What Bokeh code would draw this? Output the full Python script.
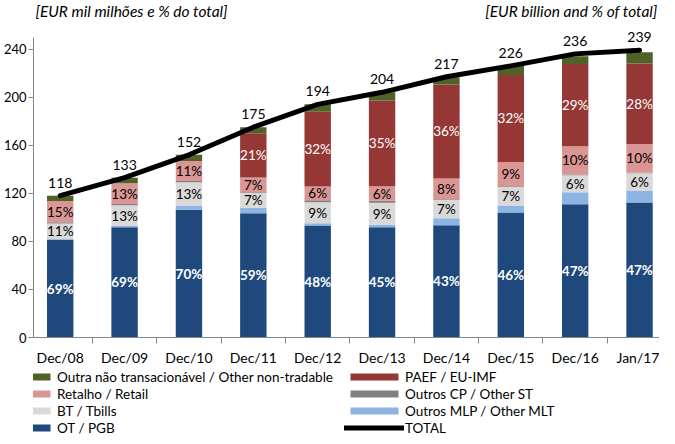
from bokeh.plotting import figure
from bokeh.layouts import column
from bokeh.models import ColumnDataSource, FixedTicker, Legend, LegendItem
from bokeh.core.properties import value
from bokeh.embed import file_html
from bokeh.resources import INLINE

# ---------------- data (EUR billion) ----------------
categories = ["Dec/08", "Dec/09", "Dec/10", "Dec/11", "Dec/12",
              "Dec/13", "Dec/14", "Dec/15", "Dec/16", "Jan/17"]
totals = [118, 133, 152, 175, 194, 204, 217, 226, 236, 239]

ot_pgb = [81.4, 91.8, 106.4, 103.3, 93.1, 91.8, 93.3, 104.0, 110.9, 112.3]
other_mlt = [0.5, 1.0, 3.0, 4.7, 2.0, 2.0, 6.0, 5.5, 10.0, 10.0]
bt_tbills = [13.0, 17.3, 19.8, 12.3, 17.5, 18.4, 15.2, 15.8, 14.2, 14.3]
other_st = [1.0, 1.0, 1.0, 0.5, 1.5, 1.5, 0.5, 0.5, 0.5, 0.5]
retail = [17.7, 17.3, 16.7, 12.3, 11.6, 12.2, 17.4, 20.3, 23.6, 23.9]
paef = [0.0, 0.0, 0.0, 36.8, 62.1, 71.4, 78.1, 72.3, 68.4, 66.9]
other_nt = [4.4, 4.6, 5.1, 5.1, 6.2, 6.7, 6.0, 7.6, 6.5, 9.5]

pct_ot = ["69%", "69%", "70%", "59%", "48%", "45%", "43%", "46%", "47%", "47%"]
pct_bt = ["11%", "13%", "13%", "7%", "9%", "9%", "7%", "7%", "6%", "6%"]
pct_retail = ["15%", "13%", "11%", "7%", "6%", "6%", "8%", "9%", "10%", "10%"]
pct_paef = ["", "", "", "21%", "32%", "35%", "36%", "32%", "29%", "28%"]

series_keys = ["ot", "mlt", "bt", "st", "retail", "paef", "other"]
series_labels = ["OT / PGB", "Outros MLP / Other MLT", "BT / Tbills",
                 "Outros CP / Other ST", "Retalho / Retail", "PAEF / EU-IMF",
                 "Outra não transacionável / Other non-tradable"]
series_colors = ["#1F497D", "#8DB4E2", "#D9D9D9", "#808080",
                 "#DA9694", "#953735", "#4F6228"]

subtitle_pt = "[EUR mil milhões e % do total]"
subtitle_en = "[EUR billion and % of total]"

FONT = "Lato"
W = 659

xs = list(range(len(categories)))
n = len(xs)

# label positions (segment centres)
y_ot = [ot_pgb[i] / 2 for i in range(n)]
y_bt = [ot_pgb[i] + other_mlt[i] + bt_tbills[i] / 2 for i in range(n)]
y_ret = [ot_pgb[i] + other_mlt[i] + bt_tbills[i] + other_st[i] + retail[i] / 2 for i in range(n)]
y_paef = [ot_pgb[i] + other_mlt[i] + bt_tbills[i] + other_st[i] + retail[i] + paef[i] / 2 for i in range(n)]

source = ColumnDataSource(dict(
    x=xs, cat=categories, total=totals,
    ot=ot_pgb, mlt=other_mlt, bt=bt_tbills, st=other_st,
    retail=retail, paef=paef, other=other_nt,
    y_ot=y_ot, y_bt=y_bt, y_ret=y_ret, y_paef=y_paef,
    p_ot=pct_ot, p_bt=pct_bt, p_ret=pct_retail, p_paef=pct_paef,
))

# ---------------- header with the two subtitles ----------------
header = figure(width=W, height=19, x_range=(0, W), y_range=(0, 19),
                x_axis_type=None, y_axis_type=None,
                output_backend="svg", toolbar_location=None,
                min_border=0)
header.outline_line_color = None
header.grid.visible = False
header.text(x=[2], y=[9], text=[subtitle_pt], text_font=value(FONT),
            text_font_size="15.5px", text_font_style="italic",
            text_baseline="middle", text_align="left", text_color="black")
header.text(x=[W - 2], y=[9], text=[subtitle_en], text_font=value(FONT),
            text_font_size="15.5px", text_font_style="italic",
            text_baseline="middle", text_align="right", text_color="black")

# ---------------- main chart ----------------
p = figure(width=W, height=349, x_range=(-0.415, 9.31), y_range=(0, 264.6),
           output_backend="svg", toolbar_location=None,
           min_border_left=26, min_border_right=0, min_border_top=0,
           min_border_bottom=27)
p.outline_line_color = None
p.grid.visible = False

bars = p.vbar_stack(series_keys, x="x", width=0.41, color=series_colors,
                    line_color=None, source=source)

line = p.line("x", "total", source=source, line_width=5, line_color="black",
              line_cap="round", line_join="round")

p.text("x", "y_ot", text="p_ot", source=source, text_align="center",
       text_baseline="middle", text_color="white", text_font=value(FONT),
       text_font_size="13.5px", text_font_style="bold")
p.text("x", "y_bt", text="p_bt", source=source, text_align="center",
       text_baseline="middle", text_color="black", text_font=value(FONT),
       text_font_size="13.5px")
p.text("x", "y_ret", text="p_ret", source=source, text_align="center",
       text_baseline="middle", text_color="black", text_font=value(FONT),
       text_font_size="13.5px")
p.text("x", "y_paef", text="p_paef", source=source, text_align="center",
       text_baseline="middle", text_color="white", text_font=value(FONT),
       text_font_size="13.5px")
p.text("x", "total", text="total", source=source, text_align="center",
       text_baseline="bottom", y_offset=-8, text_color="black",
       text_font=value(FONT), text_font_size="14px")

p.yaxis.ticker = FixedTicker(ticks=[0, 40, 80, 120, 160, 200, 240])
p.yaxis.bounds = (0, 250)
p.yaxis.major_tick_out = 5
p.yaxis.major_tick_in = 0
p.yaxis.minor_tick_line_color = None
p.yaxis.major_label_standoff = 2
p.yaxis.axis_line_color = "#868686"
p.yaxis.major_tick_line_color = "#868686"
p.yaxis.major_label_text_font = FONT
p.yaxis.major_label_text_font_size = "13px"
p.yaxis.major_label_text_color = "black"

p.xaxis.ticker = FixedTicker(ticks=xs, minor_ticks=[i - 0.5 for i in range(n + 1)])
p.xaxis.major_label_overrides = {i: c for i, c in enumerate(categories)}
p.xaxis.major_tick_out = 0
p.xaxis.major_tick_in = 0
p.xaxis.minor_tick_out = 6
p.xaxis.minor_tick_in = 0
p.xaxis.minor_tick_line_color = "#868686"
p.xaxis.axis_line_color = "#868686"
p.xaxis.major_label_standoff = 5
p.xaxis.major_label_text_font = FONT
p.xaxis.major_label_text_font_size = "14px"
p.xaxis.major_label_text_color = "black"

# ---------------- legend strip ----------------
lfig = figure(width=W, height=68, x_range=(0, 1), y_range=(0, 1),
              x_axis_type=None, y_axis_type=None,
              output_backend="svg", toolbar_location=None, min_border=0)
lfig.outline_line_color = None
lfig.grid.visible = False

# off-screen proxies: they only provide the legend swatches
swatch = {}
for key, col in zip(series_keys, series_colors):
    swatch[key] = lfig.vbar(x=[-5], top=[-5], width=0.5, color=col, line_color=None)
swatch_total = lfig.line(x=[-5, -4], y=[-5, -5], line_width=5, line_color="black",
                         line_cap="round")

lab = dict(zip(series_keys, series_labels))
order = ["other", "retail", "bt", "ot", "paef", "st", "mlt"]
items = [LegendItem(label=lab[k], renderers=[swatch[k]]) for k in order]
items.append(LegendItem(label="TOTAL", renderers=[swatch_total]))

legend = Legend(items=items, ncols=2, orientation="vertical",
                location=(-37, 0), margin=0, padding=0, spacing=0,
                glyph_width=60, glyph_height=9, label_height=17,
                label_width=287, label_standoff=1, border_line_color=None,
                background_fill_alpha=0, label_text_font=FONT,
                label_text_font_size="13.5px", label_text_color="black")
lfig.add_layout(legend, "center")

layout = column(header, p, lfig, spacing=0)
open("out.html", "w").write(file_html(layout, INLINE))
